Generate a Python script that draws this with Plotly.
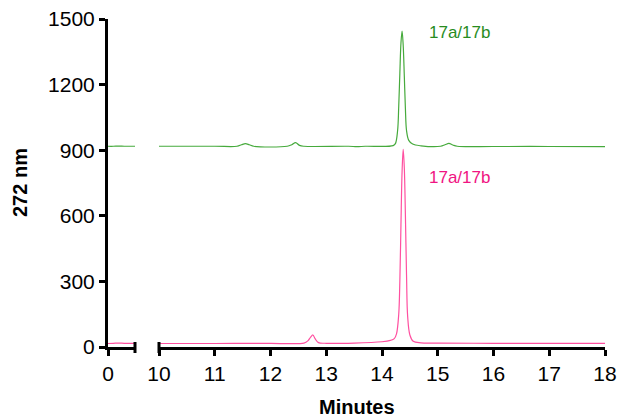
import plotly.graph_objects as go

# ---- data ----
left_time = [0.0, 0.1, 0.2, 0.3, 0.4, 0.5]
left_green = [918, 918, 919, 918, 918, 918]
left_pink = [16, 17, 18, 17, 17, 17]

green_time = [10.0, 11.0, 11.4, 11.48, 11.55, 11.62, 11.7, 12.3, 12.38, 12.45, 12.52, 12.6,
              13.4, 13.55, 13.7, 14.2, 14.24, 14.28, 14.3, 14.32, 14.34, 14.36, 14.38, 14.4,
              14.42, 14.44, 14.48, 14.55, 14.7, 15.05, 15.13, 15.2, 15.27, 15.35, 16.0, 17.0, 18.0]
green_val = [918, 918, 918, 925, 930, 925, 918, 918, 925, 935, 922, 918,
             918, 916, 918, 921, 930, 990, 1100, 1250, 1390, 1445, 1380, 1240,
             1090, 990, 945, 928, 920, 918, 925, 931, 924, 918, 917, 917, 916]

pink_time = [10.0, 11.0, 12.0, 12.6, 12.67, 12.72, 12.76, 12.8, 12.86, 13.0, 13.5, 14.0, 14.15,
             14.22, 14.26, 14.3, 14.32, 14.34, 14.36, 14.38, 14.4, 14.42, 14.44, 14.46,
             14.5, 14.56, 14.7, 15.0, 16.0, 17.0, 18.0]
pink_val = [16, 16, 17, 18, 28, 45, 55, 38, 20, 17, 18, 24, 30,
            38, 60, 150, 300, 560, 800, 904, 820, 600, 330, 140,
            55, 26, 19, 18, 17, 17, 17]

y_ticks = [0, 300, 600, 900, 1200, 1500]
left_ticks = [0]
right_ticks = [10, 11, 12, 13, 14, 15, 16, 17, 18]
label_text = "17a/17b"
green_label_pos = (14.8, 1436)
pink_label_pos = (14.8, 777)

GREEN_LINE = "rgb(70,170,60)"
PINK_LINE = "rgb(255,80,160)"
GREEN_TEXT = "rgb(40,140,30)"
PINK_TEXT = "rgb(240,20,130)"

fig = go.Figure()
fig.add_trace(go.Scatter(x=left_time, y=left_green, xaxis="x", yaxis="y", mode="lines",
                         line=dict(color=GREEN_LINE, width=1.2), line_shape="spline"))
fig.add_trace(go.Scatter(x=left_time, y=left_pink, xaxis="x", yaxis="y", mode="lines",
                         line=dict(color=PINK_LINE, width=1.2), line_shape="spline"))
fig.add_trace(go.Scatter(x=green_time, y=green_val, xaxis="x2", yaxis="y2", mode="lines",
                         line=dict(color=GREEN_LINE, width=1.2), line_shape="spline"))
fig.add_trace(go.Scatter(x=pink_time, y=pink_val, xaxis="x2", yaxis="y2", mode="lines",
                         line=dict(color=PINK_LINE, width=1.2), line_shape="spline"))

W, H = 621, 419
L, R, T, B = 108, 16, 19, 72
pw = W - L - R
ph = H - T - B
d1_end = (135 - L) / pw
d2_start = (159 - L) / pw

tickfont = dict(family="Liberation Sans, Arial", size=21, color="black")
axis_common = dict(showgrid=False, zeroline=False, showline=True, linecolor="black", linewidth=3,
                   ticks="outside", ticklen=6, tickwidth=3, tickcolor="black", tickfont=tickfont,
                   automargin=False)

fig.update_layout(
    width=W, height=H, autosize=False, margin=dict(l=L, r=R, t=T, b=B, pad=0),
    plot_bgcolor="white", paper_bgcolor="white", showlegend=False,
    xaxis=dict(domain=[0, d1_end], range=[0, 0.5], tickvals=left_ticks, anchor="y", **axis_common),
    xaxis2=dict(domain=[d2_start, 1], range=[10, 18], tickvals=right_ticks, anchor="y2", **axis_common),
    yaxis=dict(domain=[0, 1], range=[0, 1500], tickvals=y_ticks, anchor="x", **axis_common),
    yaxis2=dict(domain=[0, 1], range=[0, 1500], matches="y", anchor="x2", visible=False),
)

# axis break caps
for xp in [d1_end, d2_start]:
    fig.add_shape(type="line", xref="paper", yref="paper", x0=xp, x1=xp,
                  y0=-6 / ph, y1=5 / ph, line=dict(color="black", width=3))

fig.add_annotation(x=green_label_pos[0], y=green_label_pos[1], xref="x2", yref="y2", text=label_text,
                   showarrow=False, xanchor="left", yanchor="middle",
                   font=dict(family="Liberation Sans, Arial", size=17, color=GREEN_TEXT))
fig.add_annotation(x=pink_label_pos[0], y=pink_label_pos[1], xref="x2", yref="y2", text=label_text,
                   showarrow=False, xanchor="left", yanchor="middle",
                   font=dict(family="Liberation Sans, Arial", size=17, color=PINK_TEXT))

fig.add_annotation(x=0.5, y=-(407 - 347) / ph, xref="paper", yref="paper", text="<b>Minutes</b>",
                   showarrow=False, xanchor="center", yanchor="middle",
                   font=dict(family="Liberation Sans, Arial", size=20, color="black"))
fig.add_annotation(x=-(108 - 20) / pw, y=0.5, xref="paper", yref="paper", text="<b>272 nm</b>",
                   showarrow=False, textangle=-90, xanchor="center", yanchor="middle",
                   font=dict(family="Liberation Sans, Arial", size=20, color="black"))

fig.write_html("out.html", config={"displayModeBar": False},
               post_script="document.body.style.margin='0';document.body.style.overflow='hidden';")
